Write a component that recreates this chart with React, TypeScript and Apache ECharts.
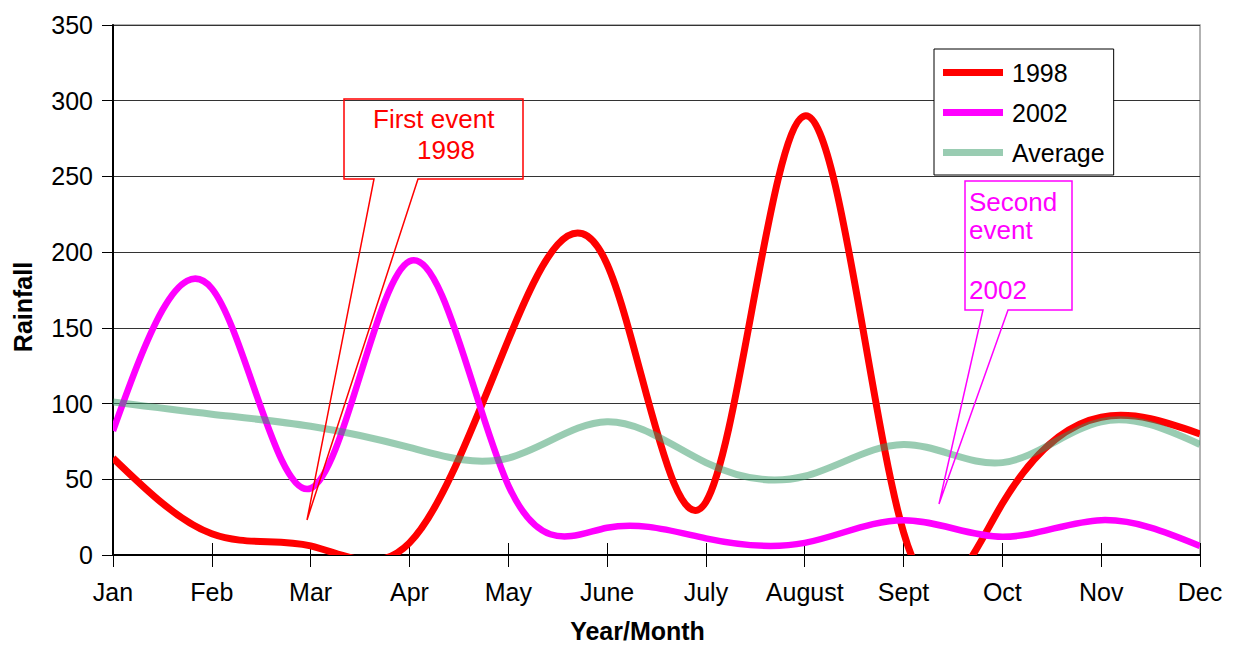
import React, { useEffect, useRef } from "react";
import * as echarts from "echarts";

const months = ["Jan", "Feb", "Mar", "Apr", "May", "June", "July", "August", "Sept", "Oct", "Nov", "Dec"];
const rain1998 = [64, 14, 6, 8, 142, 192, 35, 290, 15, 34, 91, 80];
const rain2002 = [82, 176, 44, 194, 46, 18, 11, 8, 23, 12, 23, 6];
const rainAverage = [101, 93, 85, 71, 64, 88, 61, 52, 73, 61, 88, 73];
const yTicks = { min: 0, max: 350, interval: 50 };

const FONT = "Liberation Sans, Arial, sans-serif";

// natural cubic spline second derivatives (unit spacing)
function secondDerivs(y: number[]): number[] {
  const n = y.length;
  const M = new Array(n).fill(0);
  if (n < 3) return M;
  const m = n - 2;
  const c: number[] = new Array(m).fill(0);
  const d: number[] = new Array(m).fill(0);
  for (let k = 0; k < m; k++) {
    const i = k + 1;
    const rhs = 6 * (y[i + 1] - 2 * y[i] + y[i - 1]);
    if (k === 0) {
      c[k] = 1 / 4;
      d[k] = rhs / 4;
    } else {
      const den = 4 - c[k - 1];
      c[k] = 1 / den;
      d[k] = (rhs - d[k - 1]) / den;
    }
  }
  for (let k = m - 1; k >= 0; k--) {
    M[k + 1] = d[k] - (k < m - 1 ? c[k] * M[k + 2] : 0);
  }
  return M;
}

function splineSeries(name: string, values: number[], color: string, width: number) {
  return {
    type: "custom",
    name,
    clip: true,
    itemStyle: { color },
    encode: { x: 0, y: 1 },
    data: values.map((v, i) => [i, v]),
    renderItem: (params: any, api: any) => {
      if (params.dataIndex !== 0) return null;
      const pts = values.map((v, i) => api.coord([i, v]));
      const ys = pts.map((p: number[]) => p[1]);
      const M = secondDerivs(ys);
      let d = `M${pts[0][0]},${pts[0][1]}`;
      for (let i = 0; i < pts.length - 1; i++) {
        const [x0, y0] = pts[i];
        const [x1, y1] = pts[i + 1];
        const dx = x1 - x0;
        const s0 = y1 - y0 - (2 * M[i] + M[i + 1]) / 6;
        const s1 = y1 - y0 + (M[i] + 2 * M[i + 1]) / 6;
        d += ` C${x0 + dx / 3},${y0 + s0 / 3} ${x1 - dx / 3},${y1 - s1 / 3} ${x1},${y1}`;
      }
      return {
        type: "path",
        shape: { pathData: d },
        style: { fill: "none", stroke: color, lineWidth: width, lineJoin: "round" },
      };
    },
  };
}

export default function App() {
  const ref = useRef<HTMLDivElement>(null);
  useEffect(() => {
    document.body.style.margin = "0";
    const chart = echarts.init(ref.current!, null, { renderer: "svg" });
    const red = "#ff0000";
    const magenta = "#ff00ff";
    const green = "rgba(51,153,102,0.5)";
    chart.setOption({
      animation: false,
      backgroundColor: "#ffffff",
      textStyle: { fontFamily: FONT, color: "#000" },
      grid: { left: 113, right: 37, top: 25, bottom: 88, show: true, borderColor: "#999", borderWidth: 1.5 },
      legend: {
        orient: "vertical",
        left: 934,
        top: 49,
        padding: [11, 9, 10, 9],
        itemGap: 15,
        itemWidth: 60,
        itemHeight: 7,
        borderColor: "#000",
        borderWidth: 1,
        backgroundColor: "#fff",
        textStyle: { fontSize: 25, color: "#000", fontFamily: FONT, padding: [0, 0, 0, 4] },
        data: [
          { name: "1998", icon: "rect", itemStyle: { color: red } },
          { name: "2002", icon: "rect", itemStyle: { color: magenta } },
          { name: "Average", icon: "rect", itemStyle: { color: green } },
        ],
      },
      xAxis: [
        {
          type: "category",
          data: months,
          boundaryGap: false,
          name: "Year/Month",
          nameLocation: "middle",
          nameGap: 63,
          nameTextStyle: { fontSize: 25, fontWeight: "bold", color: "#000", fontFamily: FONT, padding: [0, 38, 0, 0] },
          axisLine: { show: true, onZero: false, lineStyle: { color: "#000", width: 2 } },
          axisTick: { show: true, interval: 0, length: 12, lineStyle: { color: "#000", width: 1 } },
          axisLabel: { interval: 0, fontSize: 25, color: "#000", margin: 24, fontFamily: FONT },
          splitLine: { show: false },
        },
        {
          type: "category",
          data: months,
          boundaryGap: false,
          position: "bottom",
          axisLine: { show: false },
          axisTick: { show: true, interval: 0, inside: true, length: 12, lineStyle: { color: "#000", width: 1 } },
          axisLabel: { show: false },
          splitLine: { show: false },
        },
      ],
      yAxis: {
        type: "value",
        min: yTicks.min,
        max: yTicks.max,
        interval: yTicks.interval,
        name: "Rainfall",
        nameLocation: "middle",
        nameGap: 78,
        nameTextStyle: { fontSize: 25, fontWeight: "bold", color: "#000", fontFamily: FONT, padding: [0, 34, 0, 0] },
        axisLine: { show: true, lineStyle: { color: "#000", width: 2 } },
        axisTick: { show: true, length: 11, lineStyle: { color: "#000", width: 1 } },
        axisLabel: { fontSize: 25, color: "#000", margin: 20, fontFamily: FONT },
        splitLine: { show: true, lineStyle: { color: "#333", width: 1 } },
      },
      series: [
        splineSeries("1998", rain1998, red, 7),
        splineSeries("2002", rain2002, magenta, 6.5),
        splineSeries("Average", rainAverage, green, 7),
      ],
      graphic: [
        {
          type: "polygon",
          z: 100,
          shape: { points: [[344, 99], [523, 99], [523, 179], [418, 179], [307, 520], [374, 179], [344, 179]] },
          style: { fill: "rgba(0,0,0,0)", stroke: red, lineWidth: 1.5 },
        },
        {
          type: "text",
          z: 101,
          left: 373,
          top: 106,
          style: { text: "First event", fill: red, font: `26px ${FONT}` },
        },
        {
          type: "text",
          z: 101,
          left: 417,
          top: 137,
          style: { text: "1998", fill: red, font: `26px ${FONT}` },
        },
        {
          type: "polygon",
          z: 100,
          shape: { points: [[965, 181], [1072, 181], [1072, 310], [1008, 310], [939, 504], [983, 310], [965, 310]] },
          style: { fill: "rgba(0,0,0,0)", stroke: magenta, lineWidth: 1.5 },
        },
        {
          type: "text",
          z: 101,
          left: 969,
          top: 189,
          style: { text: "Second", fill: magenta, font: `26px ${FONT}` },
        },
        {
          type: "text",
          z: 101,
          left: 969,
          top: 217,
          style: { text: "event", fill: magenta, font: `26px ${FONT}` },
        },
        {
          type: "text",
          z: 101,
          left: 969,
          top: 277,
          style: { text: "2002", fill: magenta, font: `26px ${FONT}` },
        },
      ],
    });
    return () => chart.dispose();
  }, []);
  return <div ref={ref} style={{ width: 1237, height: 648 }} />;
}
